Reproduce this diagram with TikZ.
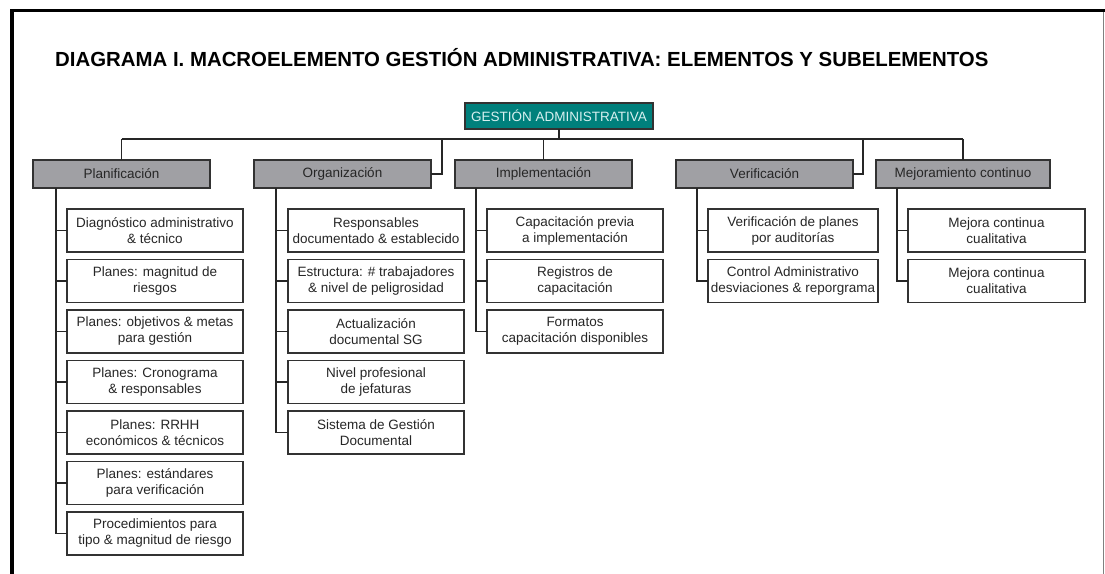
\documentclass[tikz,border=0pt]{standalone}
\usepackage{fontspec}
\setmainfont{Liberation Sans}
\definecolor{catgray}{RGB}{160,160,164}
\definecolor{tealbox}{RGB}{0,128,124}
\definecolor{tealtxt}{RGB}{215,240,240}
\definecolor{bordergray}{RGB}{50,50,50}
\begin{document}
\begin{tikzpicture}[x=1pt,y=-1pt,
  base/.style={anchor=north west,inner sep=0pt,outer sep=0pt,align=center,
    font=\fontsize{13.5}{16}\selectfont,draw=bordergray,line width=1.2pt},
  rootbox/.style={base,fill=tealbox,text=tealtxt,minimum width=188pt,minimum height=26pt},
  catbox/.style={base,fill=catgray,text=black!85,minimum width=177pt,minimum height=28pt},
  subbox/.style={base,fill=white,text=black!85,minimum width=176pt,minimum height=43pt},
  link/.style={draw=black!85,line width=1.2pt}]
\useasboundingbox (0,0) rectangle (1105,573);
\fill[white] (0,0) rectangle (1105,573);
% frame
\draw[line width=3.5pt,black] (12,575) -- (12,10.3) -- (1106,10.3);
\draw[line width=1pt,gray] (1103.5,12) -- (1103.5,575);
% title
\node[anchor=base west,inner sep=0pt,font=\fontsize{20.4}{24}\selectfont\bfseries] (title) at (55,66)
  {DIAGRAMA I. MACROELEMENTO GESTIÓN ADMINISTRATIVA: ELEMENTOS Y SUBELEMENTOS};
% root
\node[rootbox] (ga) at (465,103) {GESTIÓN ADMINISTRATIVA};
% level 1
\node[catbox] (plan) at (33,160) {Planificación};
\node[catbox] (org) at (254,160) {Organización};
\node[catbox] (imp) at (455,160) {Implementación};
\node[catbox] (ver) at (676,160) {Verificación};
\node[catbox,minimum width=174pt] (mej) at (876,160) {Mejoramiento continuo};
% bus
\coordinate (bus) at (0,139);
\coordinate (orgj) at (442,139);
\coordinate (verj) at (863,139);
\draw[link] (ga.south) -- (ga.south |- bus);
\draw[link] (plan.north |- bus) -- (mej.north |- bus);
\draw[link] (plan.north |- bus) -- (plan.north);
\draw[link] (imp.north |- bus) -- (imp.north);
\draw[link] (mej.north |- bus) -- (mej.north);
\draw[link] (orgj) |- (org.east);
\draw[link] (verj) |- (ver.east);
% Planificacion children
\node[subbox] (p1) at (67,209) {Diagnóstico administrativo\\\& técnico};
\node[subbox] (p2) at (67,259.5) {Planes: magnitud de\\riesgos};
\node[subbox] (p3) at (67,310) {Planes: objetivos \& metas\\para gestión};
\node[subbox] (p4) at (67,360.5) {Planes: Cronograma\\\& responsables};
\node[subbox] (p5) at (67,411) {Planes: RRHH\\económicos \& técnicos};
\node[subbox] (p6) at (67,461.5) {Planes: estándares\\para verificación};
\node[subbox] (p7) at (67,512) {Procedimientos para\\tipo \& magnitud de riesgo};
\coordinate (pl) at ([xshift=23pt]plan.south west);
\draw[link] (pl) |- (p7.west);
\foreach \n in {p1,p2,p3,p4,p5,p6} \draw[link] (pl |- \n.west) -- (\n.west);
% Organizacion children
\node[subbox] (o1) at (288,209) {Responsables\\documentado \& establecido};
\node[subbox] (o2) at (288,259.5) {Estructura: \# trabajadores\\\& nivel de peligrosidad};
\node[subbox] (o3) at (288,310) {Actualización\\documental SG};
\node[subbox] (o4) at (288,360.5) {Nivel profesional\\de jefaturas};
\node[subbox] (o5) at (288,411) {Sistema de Gestión\\Documental};
\coordinate (ol) at ([xshift=22pt]org.south west);
\draw[link] (ol) |- (o5.west);
\foreach \n in {o1,o2,o3,o4} \draw[link] (ol |- \n.west) -- (\n.west);
% Implementacion children
\node[subbox] (i1) at (487,209) {Capacitación previa\\a implementación};
\node[subbox] (i2) at (487,259.5) {Registros de\\capacitación};
\node[subbox] (i3) at (487,310) {Formatos\\capacitación disponibles};
\coordinate (il) at ([xshift=21pt]imp.south west);
\draw[link] (il) |- (i3.west);
\foreach \n in {i1,i2} \draw[link] (il |- \n.west) -- (\n.west);
% Verificacion children
\node[subbox,minimum width=170pt] (v1) at (708,209) {Verificación de planes\\por auditorías};
\node[subbox,minimum width=170pt] (v2) at (708,259.5) {Control Administrativo\\desviaciones \& reporgrama};
\coordinate (vl) at ([xshift=21pt]ver.south west);
\draw[link] (vl) |- (v2.west);
\draw[link] (vl |- v1.west) -- (v1.west);
% Mejoramiento children
\node[subbox,minimum width=177pt] (m1) at (908,209) {Mejora continua\\cualitativa};
\node[subbox,minimum width=177pt] (m2) at (908,259.5) {Mejora continua\\cualitativa};
\coordinate (ml) at ([xshift=21pt]mej.south west);
\draw[link] (ml) |- (m2.west);
\draw[link] (ml |- m1.west) -- (m1.west);
\end{tikzpicture}
\end{document}
